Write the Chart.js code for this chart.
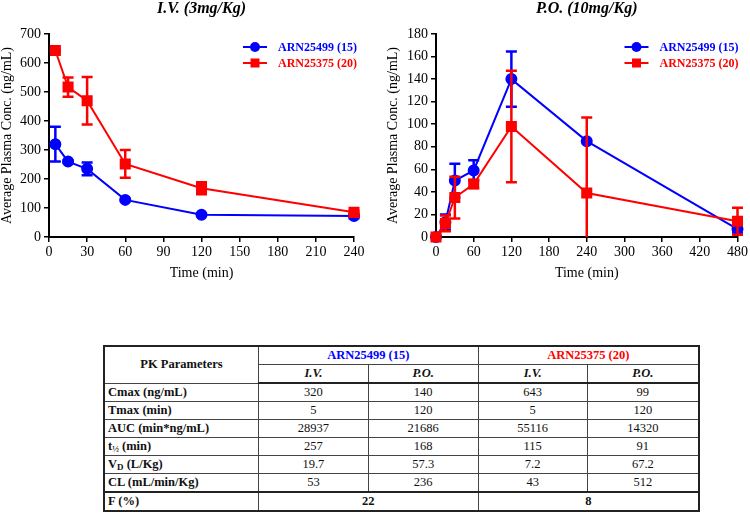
<!DOCTYPE html>
<html>
<head>
<meta charset="utf-8">
<script src="https://cdn.jsdelivr.net/npm/chart.js@4/dist/chart.umd.min.js"></script>
<style>
  body { margin: 0; background: #fff; width: 750px; height: 514px; position: relative; overflow: hidden; }
  #ivChart { position: absolute; left: 0; top: 0; }
  #poChart { position: absolute; left: 375px; top: 0; }
  table {
    position: absolute; left: 103px; top: 345px; width: 597px;
    border-collapse: collapse; font-family: "Liberation Serif", serif; font-size: 12.5px; color: #111;
    border: 2px solid #222;
  }
  td, th { border: 1px solid #444; height: 17px; padding: 0 3px; text-align: center; line-height: 15px; }
  th { font-weight: bold; }
  td.lbl { text-align: left; font-weight: bold; }
  tr.hd2 th { border-bottom: 2px solid #222; font-style: italic; }
  tr.last td { border-top: 2px solid #222; font-weight: bold; }
  .blue { color: #0000ff; }
  .red { color: #ff0000; }
  sub { font-size: 9px; vertical-align: -2px; line-height: 0; }
</style>
</head>
<body>
<canvas id="ivChart" width="375" height="290"></canvas>
<canvas id="poChart" width="375" height="290"></canvas>

<table>
  <tr>
    <th rowspan="2" style="width:147px">PK Parameters</th>
    <th colspan="2" class="blue">ARN25499 (15)</th>
    <th colspan="2" class="red">ARN25375 (20)</th>
  </tr>
  <tr class="hd2"><th>I.V.</th><th>P.O.</th><th>I.V.</th><th>P.O.</th></tr>
  <tr><td class="lbl">Cmax (ng/mL)</td><td>320</td><td>140</td><td>643</td><td>99</td></tr>
  <tr><td class="lbl">Tmax (min)</td><td>5</td><td>120</td><td>5</td><td>120</td></tr>
  <tr><td class="lbl">AUC (min*ng/mL)</td><td>28937</td><td>21686</td><td>55116</td><td>14320</td></tr>
  <tr><td class="lbl">t<sub>½</sub> (min)</td><td>257</td><td>168</td><td>115</td><td>91</td></tr>
  <tr><td class="lbl">V<sub>D</sub> (L/Kg)</td><td>19.7</td><td>57.3</td><td>7.2</td><td>67.2</td></tr>
  <tr><td class="lbl">CL (mL/min/Kg)</td><td>53</td><td>236</td><td>43</td><td>512</td></tr>
  <tr class="last"><td class="lbl">F (%)</td><td colspan="2">22</td><td colspan="2">8</td></tr>
</table>

<script>
// 시간 (분)
const timeIV = [5, 15, 30, 60, 120, 240];
const timePO = [0, 15, 30, 60, 120, 240, 480];

// I.V. (3mg/Kg) 평균 농도와 오차
const ivA = [320, 260, 235, 128, 77, 72];
const ivAErr = [60, 4, 22, 4, 4, 7];
const ivB = [643, 517, 470, 252, 168, 85];
const ivBErr = [3, 33, 82, 48, 21, 5];

// P.O. (10mg/Kg) 평균 농도와 오차
const poA = [0, 13, 50, 59, 140, 85, 7];
const poAErr = [0, 7, 15, 9, 24.5, 0, 3];
const poB = [0, 12, 35, 47, 98, 39, 14];
const poBErr = [0, 7, 18.5, 3.5, 49.5, 67, 12];

const seriesNames = ['ARN25499 (15)', 'ARN25375 (20)'];
const BLUE = '#0000ff';
const RED = '#ff0000';
const FONT = '"Liberation Serif", "Times New Roman", serif';

const toPoints = (xs, ys) => xs.map((x, i) => ({ x: x, y: ys[i] }));

// 오차 막대 (각 데이터셋 앞에 그림)
const errorBars = {
    id: 'errorBars',
    beforeDatasetDraw(chart, args) {
        const ds = chart.data.datasets[args.index];
        if (!ds.errors) return;
        const { ctx } = chart;
        const xs = chart.scales.x, ys = chart.scales.y;
        ctx.save();
        ctx.strokeStyle = ds.borderColor;
        ctx.lineWidth = 2.5;
        ds.data.forEach((p, i) => {
            const e = ds.errors[i];
            if (!e) return;
            const x = xs.getPixelForValue(p.x);
            const lo = ys.getPixelForValue(Math.max(ys.min, p.y - e));
            const hi = ys.getPixelForValue(p.y + e);
            ctx.beginPath();
            ctx.moveTo(x, lo); ctx.lineTo(x, hi);
            ctx.moveTo(x - 5.5, hi); ctx.lineTo(x + 5.5, hi);
            if (p.y - e >= ys.min) { ctx.moveTo(x - 5.5, lo); ctx.lineTo(x + 5.5, lo); }
            ctx.stroke();
        });
        ctx.restore();
    }
};

// 제목과 범례 (플롯 영역 기준)
const titleLegend = {
    id: 'titleLegend',
    afterDraw(chart, args, opts) {
        const { ctx, chartArea } = chart;
        ctx.save();
        ctx.fillStyle = '#000';
        ctx.font = 'italic bold 16px ' + FONT;
        ctx.textAlign = 'center';
        ctx.textBaseline = 'middle';
        ctx.fillText(opts.text, (chartArea.left + chartArea.right) / 2, 9);

        chart.data.datasets.forEach((ds, i) => {
            const y = 47 + i * 16;
            const x0 = chartArea.right - opts.offset;
            ctx.strokeStyle = ds.borderColor;
            ctx.fillStyle = ds.borderColor;
            ctx.lineWidth = 2;
            ctx.beginPath();
            ctx.moveTo(x0, y); ctx.lineTo(x0 + 24, y);
            ctx.stroke();
            if (ds.pointStyle === 'circle') {
                ctx.beginPath(); ctx.arc(x0 + 12, y, 5, 0, Math.PI * 2); ctx.fill();
            } else {
                ctx.fillRect(x0 + 12 - 4.5, y - 4.5, 9, 9);
            }
            ctx.font = 'bold 12px ' + FONT;
            ctx.textAlign = 'left';
            ctx.fillText(ds.label, x0 + 35, y + 1);
        });
        ctx.restore();
    }
};

function makeChart(id, xs, a, aErr, b, bErr, xMax, xStep, yMax, yStep, title, pad, yWidth, legendOffset) {
    const ctx = document.getElementById(id).getContext('2d');
    const axisCommon = {
        border: { color: '#000', width: 2 },
        grid: { drawOnChartArea: false, color: '#000', lineWidth: 1.5, tickLength: 5 },
        ticks: { color: '#000', font: { family: FONT, size: 14 } },
        title: { display: true, color: '#000', font: { family: FONT, size: 14, lineHeight: 1 } }
    };
    return new Chart(ctx, {
        type: 'line',
        data: {
            datasets: [{
                label: seriesNames[0],
                data: toPoints(xs, a),
                errors: aErr,
                borderColor: BLUE,
                backgroundColor: BLUE,
                borderWidth: 2,
                pointStyle: 'circle',
                pointRadius: 5,
                tension: 0,
                clip: false,
                order: 1
            }, {
                label: seriesNames[1],
                data: toPoints(xs, b),
                errors: bErr,
                borderColor: RED,
                backgroundColor: RED,
                borderWidth: 2,
                pointStyle: 'rect',
                pointRadius: 6.4,
                tension: 0,
                clip: false,
                order: 0
            }]
        },
        options: {
            responsive: false,
            animation: false,
            layout: { padding: pad },
            plugins: {
                legend: { display: false },
                tooltip: { enabled: false },
                titleLegend: { text: title, offset: legendOffset }
            },
            scales: {
                x: {
                    ...axisCommon,
                    type: 'linear',
                    min: 0, max: xMax,
                    ticks: { ...axisCommon.ticks, stepSize: xStep, padding: 2, maxRotation: 0 },
                    title: { ...axisCommon.title, text: 'Time (min)', padding: { top: 0, bottom: 10 } },
                    afterFit: s => { s.height = 53; }
                },
                y: {
                    ...axisCommon,
                    min: 0, max: yMax,
                    ticks: { ...axisCommon.ticks, stepSize: yStep, padding: 3 },
                    title: { ...axisCommon.title, text: 'Average Plasma Conc. (ng/mL)', padding: 0 },
                    afterFit: s => { s.width = yWidth; }
                }
            }
        },
        plugins: [errorBars, titleLegend]
    });
}

makeChart('ivChart', timeIV, ivA, ivAErr, ivB, ivBErr, 240, 30, 700, 100,
    'I.V. (3mg/Kg)', { top: 34, right: 21, bottom: 0, left: 0 }, 49, 111);
makeChart('poChart', timePO, poA, poAErr, poB, poBErr, 480, 60, 180, 20,
    'P.O. (10mg/Kg)', { top: 34, right: 10, bottom: 0, left: 11 }, 50, 113);
</script>
</body>
</html>
